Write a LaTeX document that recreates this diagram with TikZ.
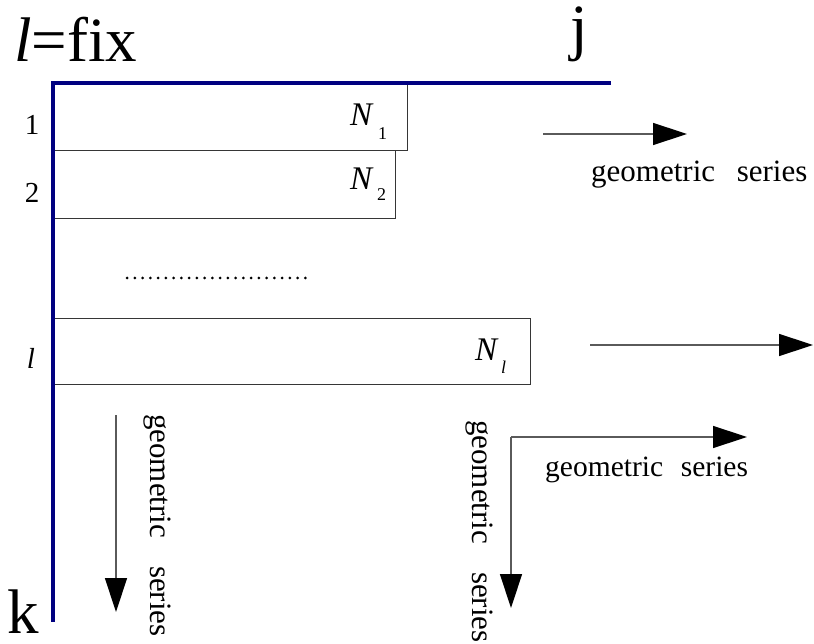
\documentclass[tikz,border=0pt]{standalone}
\usepackage{fontspec}
\setmainfont{Liberation Serif}
\usetikzlibrary{arrows.meta}
\definecolor{axisblue}{RGB}{0,0,128}
\definecolor{linegray}{RGB}{90,90,90}
\begin{document}
\begin{tikzpicture}[x=1pt,y=-1pt,
  axis/.style={draw=axisblue,line width=3.5pt},
  boxstyle/.style={draw=linegray!60!black,line width=1.2pt,rectangle,inner sep=0pt,anchor=north west},
  arr/.style={draw=linegray,line width=1.4pt,-{Triangle[length=34pt,width=22pt,fill=black,color=black]}},
  big/.style={inner sep=0pt,anchor=base west,font=\fontsize{63}{70}\selectfont},
  lab/.style={inner sep=0pt,anchor=base,font=\fontsize{29}{34}\selectfont},
  nlab/.style={inner sep=0pt,anchor=base west,font=\fontsize{33}{38}\selectfont\itshape},
  sublab/.style={inner sep=0pt,anchor=base west,font=\fontsize{18}{20}\selectfont},
  geo/.style={inner sep=0pt,anchor=base west,font=\fontsize{31}{36}\selectfont},
  vgeo/.style={geo,rotate=-90}
]
\useasboundingbox (0,0) rectangle (814,644);
% axes
\coordinate (O) at (53,83);
\coordinate (J) at (611,83);
\coordinate (K) at (53,622);
% boxes
\node[boxstyle,minimum width=354pt,minimum height=67pt] (b1) at (53,83) {};
\node[boxstyle,minimum width=342pt,minimum height=68pt] (b2) at (53,150) {};
\node[boxstyle,minimum width=477pt,minimum height=66pt] (bl) at (53,318) {};
\draw[axis] (J) -- (O) -- (K);
% big labels
\node[big] (lfix) at (14,62) {\textit{l}=fix};
\node[big] (jlab) at (570,49) {j};
\node[big] (klab) at (7,633) {k};
% row labels
\node[lab] (r1) at (32,135) {1};
\node[lab] (r2) at (32,203) {2};
\node[lab] (rl) at (31,368) {\textit{l}};
% N labels
\node[nlab] (n1) at (350,126) {N};
\node[sublab] (n1s) at (378,140) {1};
\node[nlab] (n2) at (350,190) {N};
\node[sublab] (n2s) at (377,201) {2};
\node[nlab] (nl) at (475,360) {N};
\node[sublab] (nls) at (501,373) {\textit{l}};
% dotted line
\coordinate (d1) at (127,278);
\coordinate (d2) at (313,278);
\draw[line width=3pt,line cap=round,dash pattern=on 0pt off 7.75pt,black] (d1) -- (d2);
% arrows
\coordinate (a1s) at (543,134);
\coordinate (a1e) at (687,134);
\draw[arr] (a1s) -- (a1e);
\coordinate (a2s) at (590,345);
\coordinate (a2e) at (813,345);
\draw[arr] (a2s) -- (a2e);
\coordinate (a3s) at (116,415);
\coordinate (a3e) at (116,612);
\draw[arr] (a3s) -- (a3e);
\coordinate (c) at (511,437);
\coordinate (a4e) at (747,437);
\coordinate (a5e) at (511,608);
\draw[arr] (c) -- (a4e);
\draw[arr] (c) -- (a5e);
% geometric series texts
\node[geo] (g1) at (591,182) {geometric\hspace{0.7em}series};
\node[geo,font=\fontsize{29.5}{34}\selectfont] (g2) at (545,476) {geometric\hspace{0.6em}series};
\node[vgeo] (g3) at (150,414) {geometric\hspace{0.9em}series};
\node[vgeo] (g4) at (472,420) {geometric\hspace{0.9em}series};
\end{tikzpicture}
\end{document}
